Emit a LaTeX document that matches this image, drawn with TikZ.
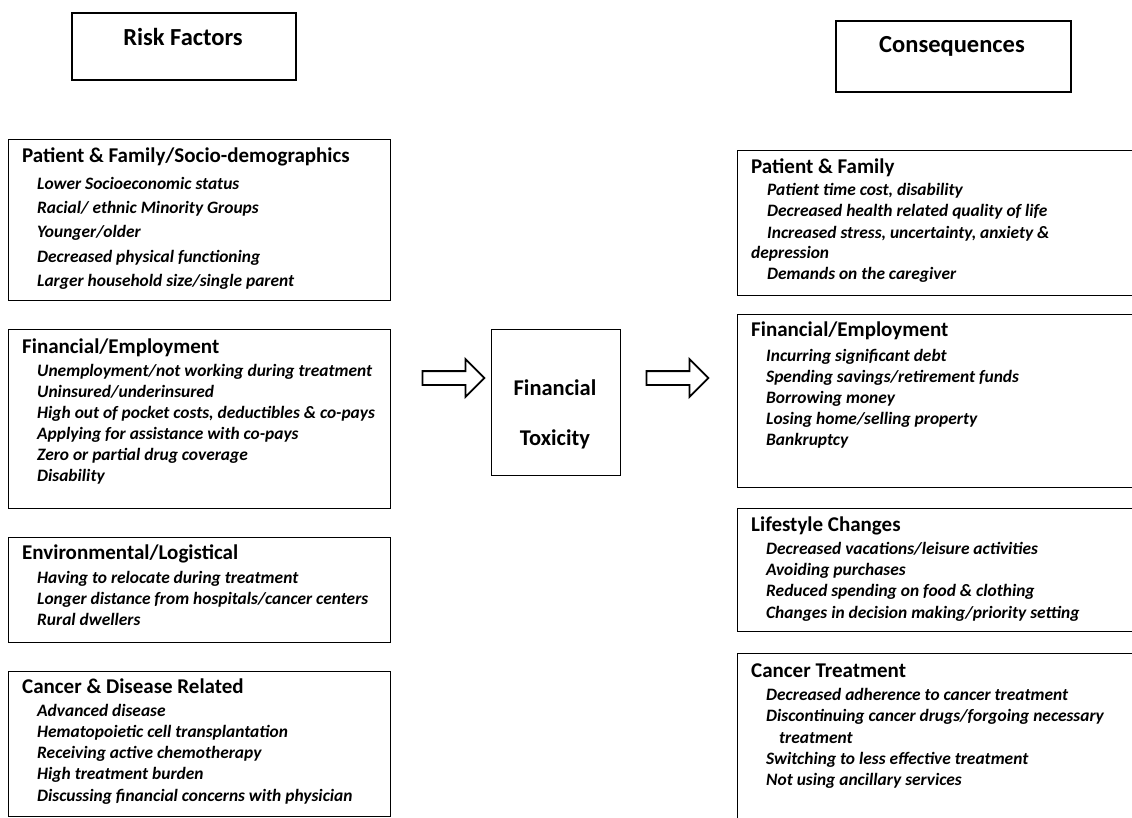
\documentclass[tikz,border=0pt]{standalone}
\usepackage{fontspec}
\setmainfont{Carlito}
\usetikzlibrary{shapes.arrows}

\tikzset{
  headbox/.style={draw,line width=2pt,anchor=north west,inner sep=0},
  groupbox/.style={draw,line width=0.9pt,anchor=north west,inner sep=0},
  headtext/.style={inner sep=0,font=\bfseries\fontsize{24.5}{28}\selectfont},
  toxtext/.style={inner sep=0,font=\bfseries\fontsize{22.5}{26}\selectfont},
  grouptitle/.style={anchor=mid west,inner sep=0,font=\bfseries\fontsize{21}{24}\selectfont},
  groupitem/.style={anchor=mid west,inner sep=0,font=\bfseries\itshape\fontsize{17.4}{20}\selectfont},
  fatarrow/.style={single arrow,draw,line width=1.8pt,inner sep=6pt,minimum height=62pt,
    single arrow head extend=12pt,single arrow tip angle=90}
}

\begin{document}
\begin{tikzpicture}[x=1pt,y=-1pt]
        \clip (0,0) rectangle (1132,818);

        % headers
        \node[headbox,minimum width=224pt,minimum height=67pt] (riskbox) at (71,12) {};
        \node[headtext] (risk) at (183,37) {Risk Factors};
        \node[headbox,minimum width=235pt,minimum height=71pt] (consbox) at (835,20) {};
        \node[headtext] (cons) at (952,46) {Consequences};

        % risk factor boxes
        \node[groupbox,minimum width=382pt,minimum height=161pt] (lpf) at (8,139) {};
        \node[grouptitle] (lpft) at (22,160) {Patient \& Family/Socio-demographics};
        \foreach \txt [count=\i] in {Lower Socioeconomic status,Racial/ ethnic Minority Groups,
            Younger/older,Decreased physical functioning,Larger household size/single parent}{
            \node[groupitem] (lpf\i) at (37,{187+24.3*(\i-1)}) {\txt};
        }

        \node[groupbox,minimum width=382pt,minimum height=179pt] (lfe) at (8,329) {};
        \node[grouptitle] (lfet) at (22,351) {Financial/Employment};
        \foreach \txt [count=\i] in {Unemployment/not working during treatment,Uninsured/underinsured,
            {High out of pocket costs, deductibles \& co-pays},Applying for assistance with co-pays,
            Zero or partial drug coverage,Disability}{
            \node[groupitem] (lfe\i) at (37,{374+21*(\i-1)}) {\txt};
        }

        \node[groupbox,minimum width=382pt,minimum height=105pt] (lenv) at (8,537) {};
        \node[grouptitle] (lenvt) at (22,557) {Environmental/Logistical};
        \foreach \txt [count=\i] in {Having to relocate during treatment,
            Longer distance from hospitals/cancer centers,Rural dwellers}{
            \node[groupitem] (lenv\i) at (37,{581+21*(\i-1)}) {\txt};
        }

        \node[groupbox,minimum width=382pt,minimum height=145pt] (lcd) at (8,671) {};
        \node[grouptitle] (lcdt) at (22,691) {Cancer \& Disease Related};
        \foreach \txt [count=\i] in {Advanced disease,Hematopoietic cell transplantation,
            Receiving active chemotherapy,High treatment burden,
            Discussing financial concerns with physician}{
            \node[groupitem] (lcd\i) at (37,{714+21.2*(\i-1)}) {\txt};
        }

        % middle
        \node[groupbox,minimum width=129pt,minimum height=146pt] (tox) at (491,329) {};
        \node[toxtext] (tox1) at (555,388) {Financial};
        \node[toxtext] (tox2) at (555,439) {Toxicity};
        \node[fatarrow] (arrin) at (450,378) {};
        \node[fatarrow] (arrout) at (674,378) {};

        % consequence boxes
        \node[groupbox,minimum width=420pt,minimum height=145pt] (rpf) at (737,150) {};
        \node[grouptitle] (rpft) at (751,171) {Patient \& Family};
        \foreach \txt [count=\i] in {{Patient time cost, disability},Decreased health related quality of life,
            {Increased stress, uncertainty, anxiety \&}}{
            \node[groupitem] (rpf\i) at (767,{193+21.5*(\i-1)}) {\txt};
        }
        \node[groupitem] (rpf4) at (751,256) {depression};
        \node[groupitem] (rpf5) at (767,277) {Demands on the caregiver};

        \node[groupbox,minimum width=420pt,minimum height=173pt] (rfe) at (737,314) {};
        \node[grouptitle] (rfet) at (751,334) {Financial/Employment};
        \foreach \txt [count=\i] in {Incurring significant debt,Spending savings/retirement funds,
            Borrowing money,Losing home/selling property,Bankruptcy}{
            \node[groupitem] (rfe\i) at (766,{359+21*(\i-1)}) {\txt};
        }

        \node[groupbox,minimum width=420pt,minimum height=123pt] (rls) at (737,508) {};
        \node[grouptitle] (rlst) at (751,529) {Lifestyle Changes};
        \foreach \txt [count=\i] in {Decreased vacations/leisure activities,Avoiding purchases,
            Reduced spending on food \& clothing,Changes in decision making/priority setting}{
            \node[groupitem] (rls\i) at (766,{552+21.3*(\i-1)}) {\txt};
        }

        \node[groupbox,minimum width=420pt,minimum height=200pt] (rct) at (737,653) {};
        \node[grouptitle] (rctt) at (751,675) {Cancer Treatment};
        \node[groupitem] (rct1) at (766,698) {Decreased adherence to cancer treatment};
        \node[groupitem] (rct2) at (766,719) {Discontinuing cancer drugs/forgoing necessary};
        \node[groupitem] (rct3) at (779,741) {treatment};
        \node[groupitem] (rct4) at (766,762) {Switching to less effective treatment};
        \node[groupitem] (rct5) at (766,783) {Not using ancillary services};
    \end{tikzpicture}
\end{document}
